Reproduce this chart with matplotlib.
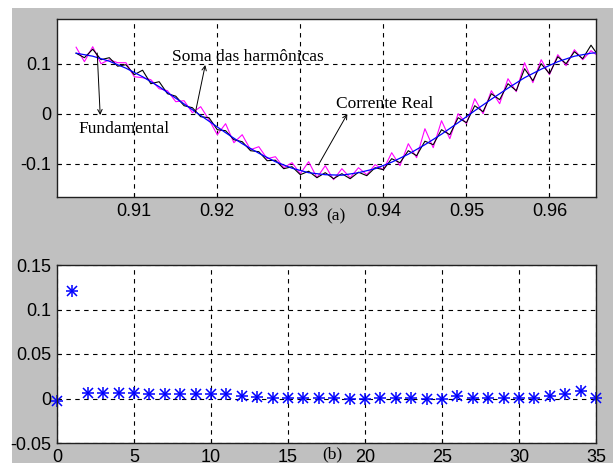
import numpy as np
import matplotlib
matplotlib.use("Agg")
import matplotlib.pyplot as plt
from matplotlib.patches import Rectangle

# --- dados ---
t_fund = [0.903, 0.905, 0.907, 0.909, 0.911, 0.913, 0.915, 0.917, 0.919, 0.921,
          0.923, 0.925, 0.927, 0.929, 0.931, 0.933, 0.935, 0.937, 0.939, 0.941,
          0.943, 0.945, 0.947, 0.949, 0.951, 0.953, 0.955, 0.957, 0.959, 0.961,
          0.963, 0.965, 0.9658]
fundamental = [0.121, 0.115, 0.105, 0.091, 0.074, 0.054, 0.031, 0.008, -0.015, -0.038,
               -0.060, -0.079, -0.096, -0.109, -0.118, -0.122, -0.123, -0.118, -0.110, -0.097,
               -0.081, -0.062, -0.041, -0.018, 0.006, 0.029, 0.051, 0.072, 0.089, 0.104,
               0.115, 0.121, 0.122]

t_sinal = [0.903, 0.904, 0.905, 0.906, 0.907, 0.908, 0.909, 0.910, 0.911, 0.912,
           0.913, 0.914, 0.915, 0.916, 0.917, 0.918, 0.919, 0.920, 0.921, 0.922,
           0.923, 0.924, 0.925, 0.926, 0.927, 0.928, 0.929, 0.930, 0.931, 0.932,
           0.933, 0.934, 0.935, 0.936, 0.937, 0.938, 0.939, 0.940, 0.941, 0.942,
           0.943, 0.944, 0.945, 0.946, 0.947, 0.948, 0.949, 0.950, 0.951, 0.952,
           0.953, 0.954, 0.955, 0.956, 0.957, 0.958, 0.959, 0.960, 0.961, 0.962,
           0.963, 0.964, 0.965, 0.9658]
corrente_real = [0.121, 0.112, 0.129, 0.108, 0.112, 0.095, 0.098, 0.078, 0.087, 0.060,
                 0.064, 0.040, 0.035, 0.016, 0.012, -0.006, -0.008, -0.032, -0.034, -0.052,
                 -0.056, -0.074, -0.076, -0.094, -0.093, -0.110, -0.106, -0.122, -0.115, -0.128,
                 -0.118, -0.130, -0.120, -0.130, -0.117, -0.124, -0.108, -0.112, -0.090, -0.098,
                 -0.074, -0.084, -0.055, -0.062, -0.032, -0.042, -0.008, -0.018, 0.016, 0.004,
                 0.040, 0.028, 0.060, 0.046, 0.090, 0.066, 0.100, 0.080, 0.114, 0.100,
                 0.124, 0.110, 0.137, 0.118]
soma_harm = [0.133, 0.104, 0.134, 0.100, 0.108, 0.102, 0.102, 0.074, 0.072, 0.068,
             0.050, 0.046, 0.024, 0.026, 0.002, 0.014, -0.012, -0.042, -0.020, -0.058,
             -0.042, -0.072, -0.066, -0.090, -0.086, -0.108, -0.098, -0.120, -0.096, -0.128,
             -0.104, -0.132, -0.110, -0.128, -0.108, -0.122, -0.102, -0.112, -0.078, -0.104,
             -0.060, -0.088, -0.030, -0.068, -0.014, -0.050, 0.000, -0.020, 0.030, 0.000,
             0.046, 0.020, 0.070, 0.044, 0.102, 0.062, 0.108, 0.078, 0.118, 0.096,
             0.128, 0.108, 0.126, 0.116]

ordem = list(range(36))
espectro = [-0.003, 0.121, 0.006, 0.006, 0.006, 0.006, 0.0045, 0.0045, 0.0045, 0.0045,
            0.0045, 0.0045, 0.003, 0.0015, 0.001, 0.001, 0.001, 0.001, 0.001, 0.0,
            0.0, 0.001, 0.001, 0.001, 0.0, 0.0, 0.003, 0.001, 0.001, 0.001,
            0.001, 0.001, 0.003, 0.005, 0.008, 0.001]

plt.rcParams['font.family'] = ['Liberation Sans', 'DejaVu Sans']
fig = plt.figure(figsize=(6.13, 4.63), dpi=100)
fig.patch.set_facecolor('white')
fig.patches.append(Rectangle((12 / 613, 0), 1, 1 - 8 / 463, transform=fig.transFigure,
                             facecolor='#c0c0c0', edgecolor='none', zorder=-10))

serif = ['Liberation Serif', 'DejaVu Serif']

def estilo(ax):
    ax.set_facecolor('white')
    ax.grid(True, color='black', linestyle=(0, (4, 4)), linewidth=0.8)
    ax.tick_params(direction='in', length=3, labelsize=13, colors='black', pad=4)
    for s in ax.spines.values():
        s.set_linewidth(1.0)
        s.set_color('#202020')

# (a)
ax1 = fig.add_axes([57 / 613, 1 - 197 / 463, 539 / 613, 178 / 463])
ax1.plot(t_sinal, soma_harm, color='magenta', linewidth=0.8)
ax1.plot(t_sinal, corrente_real, color='black', linewidth=0.8)
ax1.plot(t_fund, fundamental, color='blue', linewidth=0.9)
ax1.set_xlim(0.9007, 0.9656)
ax1.set_ylim(-0.1666, 0.1894)
ax1.set_xticks([0.91, 0.92, 0.93, 0.94, 0.95, 0.96])
ax1.set_xticklabels(['0.91', '0.92', '0.93', '0.94', '0.95', '0.96'])
ax1.set_yticks([-0.1, 0, 0.1])
ax1.set_yticklabels(['-0.1', '0', '0.1'])
estilo(ax1)

seta = dict(arrowstyle='->', color='black', linewidth=0.7, shrinkA=0, shrinkB=0,
            mutation_scale=8)
ax1.text(0.91458, 0.1134, 'Soma das harmônicas', family=serif, fontsize=12.5,
         ha='left', va='center')
ax1.annotate('', xy=(0.91855, 0.0974), xytext=(0.91735, 0.0014), arrowprops=seta)
ax1.text(0.90325, -0.0306, 'Fundamental', family=serif, fontsize=12.5,
         ha='left', va='center')
ax1.annotate('', xy=(0.9059, -0.0026), xytext=(0.90554, 0.1214), arrowprops=seta)
ax1.text(0.93434, 0.0194, 'Corrente Real', family=serif, fontsize=12.5,
         ha='left', va='center')
ax1.annotate('', xy=(0.93566, -0.0006), xytext=(0.93217, -0.1026), arrowprops=seta)

fig.text(336 / 613, 1 - 216 / 463, '(a)', family=serif, fontsize=12.5,
         ha='center', va='center')

# (b)  marcador '*' do MATLAB = '+' sobreposto a 'x'
ax2 = fig.add_axes([57 / 613, 20 / 463, 539 / 613, 178 / 463])
ax2.plot(ordem, espectro, linestyle='none', marker='+', markersize=9,
         color='blue', markeredgewidth=1.1, clip_on=False)
ax2.plot(ordem, espectro, linestyle='none', marker='x', markersize=6.5,
         color='blue', markeredgewidth=1.1, clip_on=False)
ax2.set_xlim(0, 35)
ax2.set_ylim(-0.05, 0.15)
ax2.set_xticks([0, 5, 10, 15, 20, 25, 30, 35])
ax2.set_yticks([-0.05, 0, 0.05, 0.1, 0.15])
ax2.set_yticklabels(['-0.05', '0', '0.05', '0.1', '0.15'])
estilo(ax2)

fig.text(332 / 613, 1 - 454 / 463, '(b)', family=serif, fontsize=12.5,
         ha='center', va='center')

fig.savefig('out.png', dpi=100)
